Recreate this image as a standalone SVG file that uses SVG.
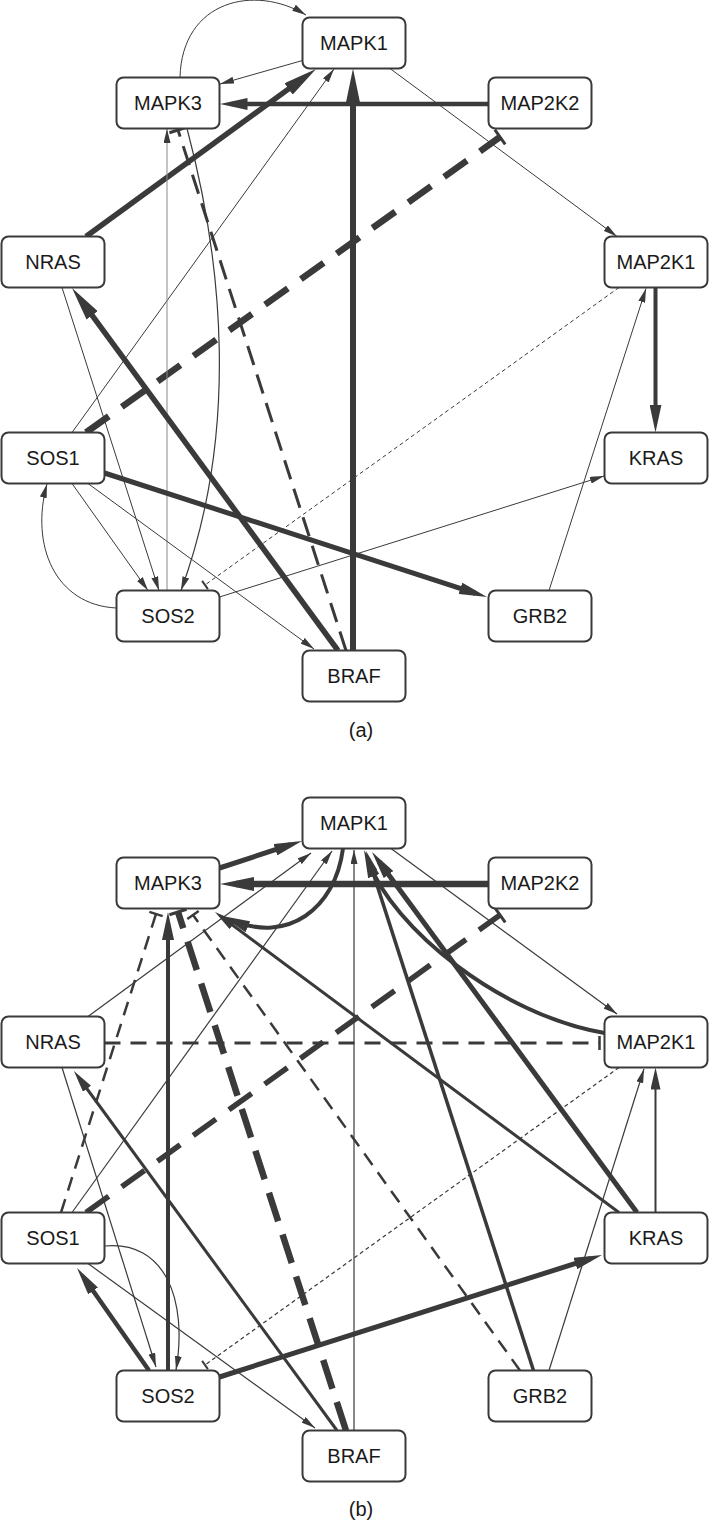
<svg xmlns="http://www.w3.org/2000/svg" width="709" height="1523" viewBox="0 0 709 1523">
<style>
.node rect{fill:#ffffff;stroke:#3a3a3a;stroke-width:2}
.node text{font-family:"Liberation Sans",Arial,sans-serif;font-size:20px;fill:#1a1a1a;text-anchor:middle}
.e{fill:none;stroke:#3a3a3a;stroke-linecap:butt}
.caption{font-family:"Liberation Sans",Arial,sans-serif;font-size:20px;fill:#1a1a1a;text-anchor:middle}
</style>
<defs>
<marker id="arrS" markerUnits="userSpaceOnUse" orient="auto" markerWidth="14" markerHeight="7" refX="14" refY="3.5"><path d="M0,0 L14,3.5 L0,7 z" fill="#3a3a3a"/></marker>
<marker id="arrM" markerUnits="userSpaceOnUse" orient="auto" markerWidth="22" markerHeight="10" refX="14" refY="5"><path d="M0,0 L22,5 L0,10 z" fill="#3a3a3a"/></marker>
<marker id="arrL" markerUnits="userSpaceOnUse" orient="auto" markerWidth="28" markerHeight="12" refX="16" refY="6"><path d="M0,0 L28,6 L0,12 z" fill="#3a3a3a"/></marker>
<marker id="arrXL" markerUnits="userSpaceOnUse" orient="auto" markerWidth="34" markerHeight="14" refX="18" refY="7"><path d="M0,0 L34,7 L0,14 z" fill="#3a3a3a"/></marker>
<marker id="tbar" markerUnits="userSpaceOnUse" orient="auto" markerWidth="6" markerHeight="20" refX="3" refY="10"><path d="M3,1 L3,19" stroke="#3a3a3a" stroke-width="3" fill="none"/></marker>
<marker id="tbarM" markerUnits="userSpaceOnUse" orient="auto" markerWidth="6" markerHeight="16" refX="3" refY="8"><path d="M3,1 L3,15" stroke="#3a3a3a" stroke-width="2.5" fill="none"/></marker>
<marker id="tbarS" markerUnits="userSpaceOnUse" orient="auto" markerWidth="4" markerHeight="12" refX="2" refY="6"><path d="M2,1 L2,11" stroke="#3a3a3a" stroke-width="2" fill="none"/></marker>
</defs>

<g id="panel-a">
<g id="connectors-a">
<path class="e" d="M180,77.5 C182,0 255,-16 306,15" stroke-width="1" marker-end="url(#arrS)"/>
<path class="e" d="M302.5,60.5 L220,84" stroke-width="1" marker-end="url(#arrS)"/>
<path class="e" d="M488.5,104 L231.5,104" stroke-width="4.5" marker-end="url(#arrL)"/>
<path class="e" d="M353,650.5 L353,84.5" stroke-width="6" marker-end="url(#arrXL)"/>
<path class="e" d="M86,236.5 L303.1,78.4" stroke-width="5.5" marker-end="url(#arrXL)"/>
<path class="e" d="M72,432.5 L334,69" stroke-width="1" marker-end="url(#arrS)"/>
<path class="e" d="M390,68.5 L617,236.5" stroke-width="1" marker-end="url(#arrS)"/>
<path class="e" d="M86,432.5 L500,137" stroke-width="6.5" stroke-dasharray="28 16" marker-end="url(#tbar)"/>
<path class="e" d="M167,590.5 L167,129" stroke-width="1" style="stroke:#8a8a8a" marker-end="url(#arrS)"/>
<path class="e" d="M346,650.5 L178,130" stroke-width="3" stroke-dasharray="20 10" marker-end="url(#tbar)"/>
<path class="e" d="M187,128.5 C222,260 240,430 181,590.5" stroke-width="1.2" marker-end="url(#arrS)"/>
<path class="e" d="M62,287.5 L159,590.5" stroke-width="1" marker-end="url(#arrS)"/>
<path class="e" d="M72,483.5 L148,590.5" stroke-width="1" marker-end="url(#arrS)"/>
<path class="e" d="M88,483.5 L314,649" stroke-width="1" marker-end="url(#arrS)"/>
<path class="e" d="M116.5,608 C55,605 30,545 47,484" stroke-width="1" marker-end="url(#arrS)"/>
<path class="e" d="M104.5,473 L475.6,593.3" stroke-width="5" marker-end="url(#arrL)"/>
<path class="e" d="M338,650.5 L81.5,300.9" stroke-width="5.5" marker-end="url(#arrXL)"/>
<path class="e" d="M655.5,287.5 L655.5,420.5" stroke-width="4" marker-end="url(#arrL)"/>
<path class="e" d="M619,287.5 L205,585" stroke-width="1" stroke-dasharray="4 3" marker-end="url(#tbarS)"/>
<path class="e" d="M219.5,597 L604,476" stroke-width="1" marker-end="url(#arrS)"/>
<path class="e" d="M549,590.5 L646,288.5" stroke-width="1" marker-end="url(#arrS)"/>
</g>
<g id="a-MAPK1" class="node"><rect x="302.5" y="17.5" width="103" height="51" rx="7"/><text x="354" y="50">MAPK1</text></g>
<g id="a-MAPK3" class="node"><rect x="116.5" y="77.5" width="103" height="51" rx="7"/><text x="168" y="110">MAPK3</text></g>
<g id="a-MAP2K2" class="node"><rect x="488.5" y="77.5" width="103" height="51" rx="7"/><text x="540" y="110">MAP2K2</text></g>
<g id="a-NRAS" class="node"><rect x="1.5" y="236.5" width="103" height="51" rx="7"/><text x="53" y="269">NRAS</text></g>
<g id="a-MAP2K1" class="node"><rect x="604.5" y="236.5" width="103" height="51" rx="7"/><text x="656" y="269">MAP2K1</text></g>
<g id="a-SOS1" class="node"><rect x="1.5" y="432.5" width="103" height="51" rx="7"/><text x="53" y="465">SOS1</text></g>
<g id="a-KRAS" class="node"><rect x="604.5" y="432.5" width="103" height="51" rx="7"/><text x="656" y="465">KRAS</text></g>
<g id="a-SOS2" class="node"><rect x="116.5" y="590.5" width="103" height="51" rx="7"/><text x="168" y="623">SOS2</text></g>
<g id="a-GRB2" class="node"><rect x="488.5" y="590.5" width="103" height="51" rx="7"/><text x="540" y="623">GRB2</text></g>
<g id="a-BRAF" class="node"><rect x="302.5" y="650.5" width="103" height="51" rx="7"/><text x="354" y="683">BRAF</text></g>
<text class="caption" x="361" y="737">(a)</text>
</g>

<g id="panel-b" transform="translate(0,780)">
<g id="connectors-b">
<path class="e" d="M219.5,88 L290.6,64.7" stroke-width="5" marker-end="url(#arrL)"/>
<path class="e" d="M488.5,104 L236,104" stroke-width="6.5" marker-end="url(#arrXL)"/>
<path class="e" d="M343,68.5 C335,130 287,163 233.1,140.6" stroke-width="4" marker-end="url(#arrL)"/>
<path class="e" d="M88,236.5 L311,73" stroke-width="1.2" marker-end="url(#arrS)"/>
<path class="e" d="M72,432.5 L332,71" stroke-width="1.2" marker-end="url(#arrS)"/>
<path class="e" d="M354,650.5 L354,70" stroke-width="1.2" marker-end="url(#arrS)"/>
<path class="e" d="M391,68.5 L617,234" stroke-width="1.2" marker-end="url(#arrS)"/>
<path class="e" d="M604.5,253 C500,235 393,148 368.2,81.2" stroke-width="4" marker-end="url(#arrL)"/>
<path class="e" d="M637,432.5 L379.1,81.7" stroke-width="5" marker-end="url(#arrL)"/>
<path class="e" d="M533.5,590.5 L368.5,78.6" stroke-width="3.5" marker-end="url(#arrM)"/>
<path class="e" d="M619,432.5 L221.4,136.8" stroke-width="3" marker-end="url(#arrM)"/>
<path class="e" d="M655.5,432.5 L655.5,295.5" stroke-width="2" marker-end="url(#arrM)"/>
<path class="e" d="M549,590.5 L644,289" stroke-width="1.2" marker-end="url(#arrS)"/>
<path class="e" d="M104.5,263 L599.5,263" stroke-width="3" stroke-dasharray="16 10" marker-end="url(#tbarM)"/>
<path class="e" d="M86,432.5 L500,135" stroke-width="5.5" stroke-dasharray="28 16" marker-end="url(#tbar)"/>
<path class="e" d="M346,650.5 L178,132" stroke-width="6.5" stroke-dasharray="30 14" marker-end="url(#tbar)"/>
<path class="e" d="M520,590.5 L193,135" stroke-width="2.5" stroke-dasharray="14 9" marker-end="url(#tbarM)"/>
<path class="e" d="M61,432.5 L156,134" stroke-width="2.5" stroke-dasharray="14 9" marker-end="url(#tbarM)"/>
<path class="e" d="M168,590.5 L168,144" stroke-width="4" marker-end="url(#arrL)"/>
<path class="e" d="M62,287.5 L156,587" stroke-width="1.2" marker-end="url(#arrS)"/>
<path class="e" d="M337,650.5 L78.7,297.5" stroke-width="3" marker-end="url(#arrM)"/>
<path class="e" d="M149,590.5 L83.9,497.8" stroke-width="4.5" marker-end="url(#arrL)"/>
<path class="e" d="M104.5,466 C165,460 188,520 176,590" stroke-width="1.2" marker-end="url(#arrS)"/>
<path class="e" d="M88,483.5 L315,648" stroke-width="1.2" marker-end="url(#arrS)"/>
<path class="e" d="M219.5,597 L590.6,478.6" stroke-width="5" marker-end="url(#arrL)"/>
<path class="e" d="M619,287.5 L205,585" stroke-width="1.2" stroke-dasharray="4 3" marker-end="url(#tbarS)"/>
</g>
<g id="b-MAPK1" class="node"><rect x="302.5" y="17.5" width="103" height="51" rx="7"/><text x="354" y="50">MAPK1</text></g>
<g id="b-MAPK3" class="node"><rect x="116.5" y="77.5" width="103" height="51" rx="7"/><text x="168" y="110">MAPK3</text></g>
<g id="b-MAP2K2" class="node"><rect x="488.5" y="77.5" width="103" height="51" rx="7"/><text x="540" y="110">MAP2K2</text></g>
<g id="b-NRAS" class="node"><rect x="1.5" y="236.5" width="103" height="51" rx="7"/><text x="53" y="269">NRAS</text></g>
<g id="b-MAP2K1" class="node"><rect x="604.5" y="236.5" width="103" height="51" rx="7"/><text x="656" y="269">MAP2K1</text></g>
<g id="b-SOS1" class="node"><rect x="1.5" y="432.5" width="103" height="51" rx="7"/><text x="53" y="465">SOS1</text></g>
<g id="b-KRAS" class="node"><rect x="604.5" y="432.5" width="103" height="51" rx="7"/><text x="656" y="465">KRAS</text></g>
<g id="b-SOS2" class="node"><rect x="116.5" y="590.5" width="103" height="51" rx="7"/><text x="168" y="623">SOS2</text></g>
<g id="b-GRB2" class="node"><rect x="488.5" y="590.5" width="103" height="51" rx="7"/><text x="540" y="623">GRB2</text></g>
<g id="b-BRAF" class="node"><rect x="302.5" y="650.5" width="103" height="51" rx="7"/><text x="354" y="683">BRAF</text></g>
<text class="caption" x="361" y="736">(b)</text>
</g>
</svg>
